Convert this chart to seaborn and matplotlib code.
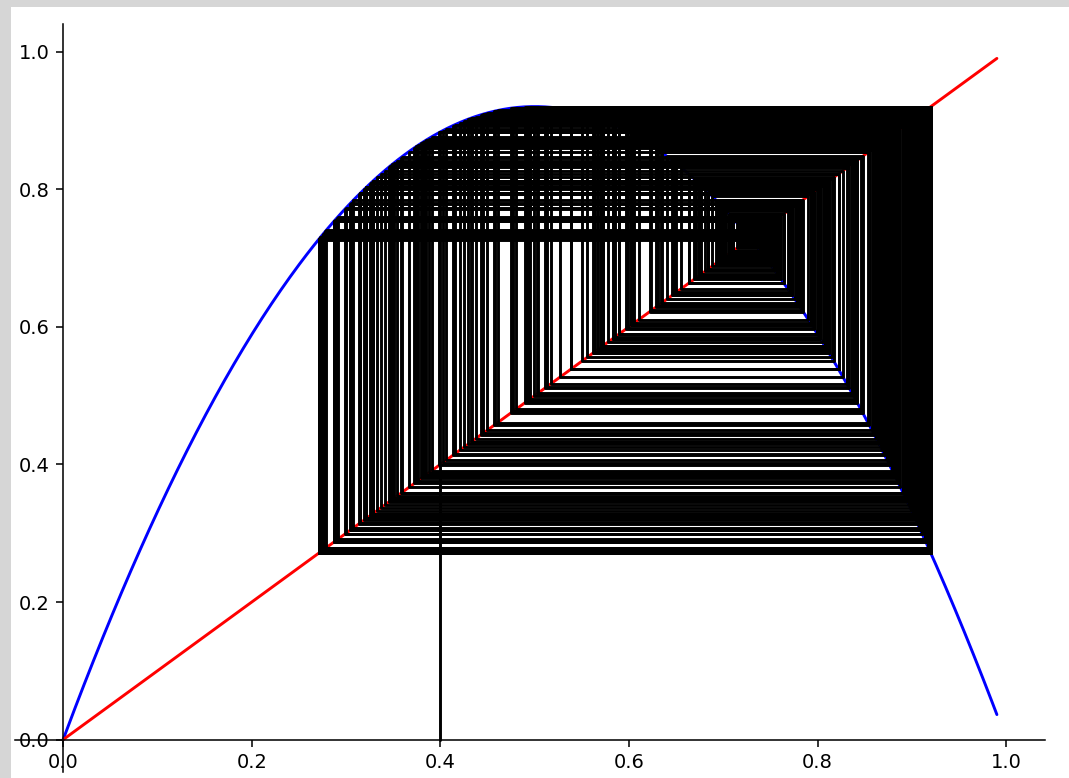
import numpy as np
import pandas as pd
import seaborn as sns
import matplotlib
matplotlib.use("Agg")
import matplotlib.pyplot as plt
from matplotlib.patches import Rectangle

# Logistic map parameters
r = 3.68          # growth rate (peak of curve at r/4 ~ 0.92)
x0 = 0.4          # starting point of the cobweb
n_iter = 380      # number of iterations
x_start, x_end, n_pts = 0.0, 0.99, 400
xticks = [0.0, 0.2, 0.4, 0.6, 0.8, 1.0]
yticks = [0.0, 0.2, 0.4, 0.6, 0.8, 1.0]

# curve and diagonal
xs = np.linspace(x_start, x_end, n_pts)
curve = pd.DataFrame({"x": xs, "y": r * xs * (1 - xs)})
diag = pd.DataFrame({"x": xs, "y": xs})

# cobweb path
cx, cy = [x0], [0.0]
x = x0
for _ in range(n_iter):
    fx = r * x * (1 - x)
    cx += [x, fx]
    cy += [fx, fx]
    x = fx
cob = pd.DataFrame({"x": cx, "y": cy})

sns.set_style("white")
plt.rcParams['font.family'] = ['DejaVu Sans']
plt.rcParams['text.color'] = 'black'
plt.rcParams['xtick.color'] = 'black'
plt.rcParams['ytick.color'] = 'black'
dpi = 140
fig = plt.figure(figsize=(1069 / dpi, 778 / dpi), dpi=dpi)
fig.patch.set_facecolor("#d6d6d6")
fig.patches.append(Rectangle((11 / 1069, 0), 1, (778 - 7) / 778,
                             transform=fig.transFigure, facecolor="white",
                             edgecolor="none", zorder=-10))
ax = fig.add_axes([15 / 1069, 6 / 778, (1045 - 15) / 1069, (772 - 24) / 778])
ax.patch.set_alpha(0)
ax.set_zorder(5)

sns.lineplot(data=curve, x="x", y="y", ax=ax, color="blue", lw=1.5, sort=False, estimator=None, zorder=2)
sns.lineplot(data=diag, x="x", y="y", ax=ax, color="red", lw=1.5, sort=False, estimator=None, zorder=2)
sns.lineplot(data=cob, x="x", y="y", ax=ax, color="black", lw=1.5, sort=False, estimator=None, zorder=3)

ax.set_xlim(-0.051, 1.041)
ax.set_ylim(-0.047, 1.04)
ax.spines["left"].set_position(("data", 0))
ax.spines["bottom"].set_position(("data", 0))
ax.spines["top"].set_visible(False)
ax.spines["right"].set_visible(False)
for s in ("left", "bottom"):
    ax.spines[s].set_color("black")
    ax.spines[s].set_linewidth(0.8)
ax.set_xticks(xticks)
ax.set_yticks(yticks)
ax.set_xticklabels([f"{t:.1f}" for t in xticks])
ax.set_yticklabels([f"{t:.1f}" for t in yticks])
ax.tick_params(axis="both", which="major", direction="out", length=3.5, width=0.8,
               labelsize=10, color="black", labelcolor="black", bottom=True, left=True)
ax.set_xlabel("")
ax.set_ylabel("")
ax.grid(False)

fig.savefig("out.png", dpi=dpi, facecolor=fig.get_facecolor())
